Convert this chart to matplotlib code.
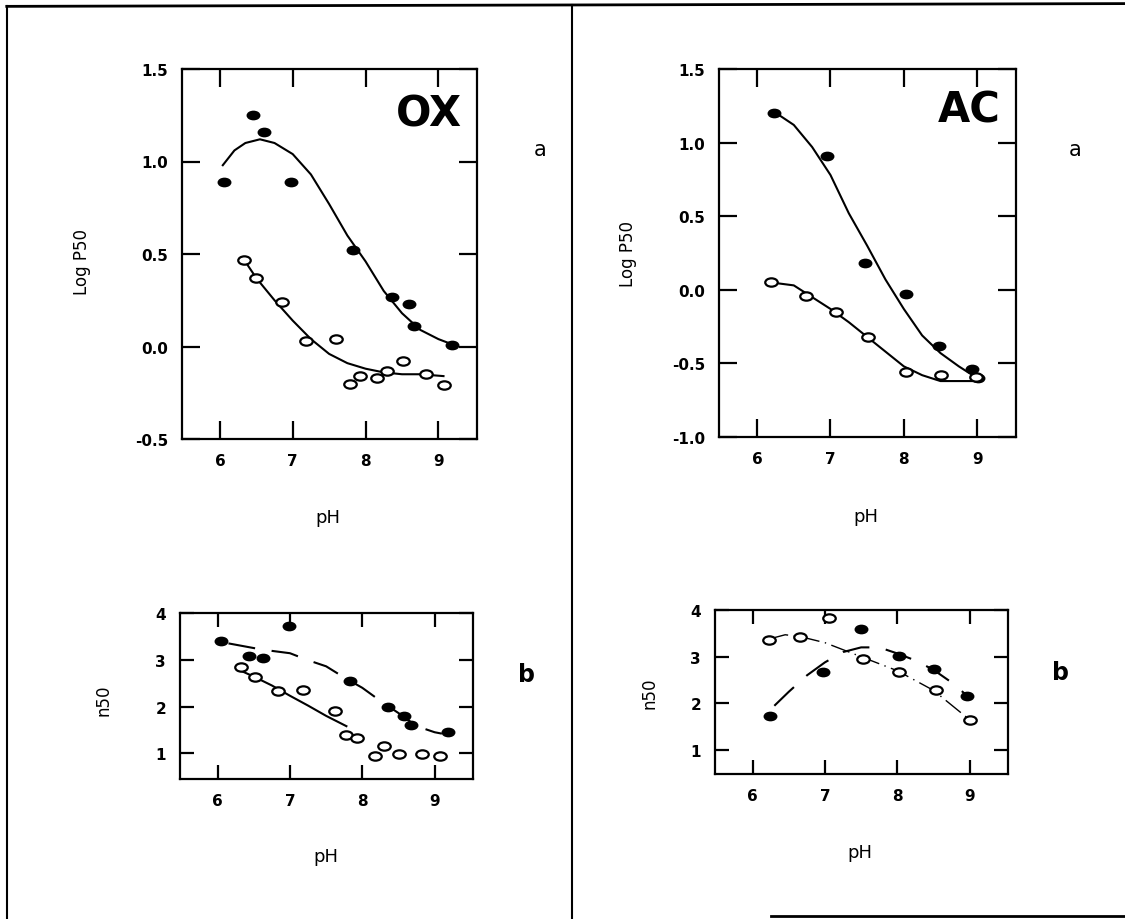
import numpy as np
import matplotlib
matplotlib.use("Agg")
import matplotlib.pyplot as plt
from matplotlib.path import Path
from matplotlib.lines import Line2D

# ---- data ----
# OX, panel a (Log P50)
ph_oxa_fill = [6.05, 6.45, 6.60, 6.98, 7.83, 8.36, 8.59, 8.67, 9.19]
lp_oxa_fill = [0.89, 1.25, 1.16, 0.89, 0.52, 0.27, 0.23, 0.11, 0.01]
ph_oxa_open = [6.33, 6.50, 6.85, 7.18, 7.60, 7.79, 7.92, 8.16, 8.30, 8.52, 8.83, 9.08]
lp_oxa_open = [0.47, 0.37, 0.24, 0.03, 0.04, -0.20, -0.16, -0.17, -0.13, -0.08, -0.15, -0.21]
fit_ph_oxa_fill = [6.04, 6.2, 6.35, 6.55, 6.75, 7.0, 7.25, 7.5, 7.75, 8.0, 8.25, 8.5, 8.75, 9.0, 9.2]
fit_lp_oxa_fill = [0.98, 1.06, 1.10, 1.12, 1.10, 1.04, 0.93, 0.77, 0.60, 0.46, 0.30, 0.18, 0.09, 0.04, 0.01]
fit_ph_oxa_open = [6.33, 6.5, 6.75, 7.0, 7.25, 7.5, 7.75, 8.0, 8.25, 8.5, 8.75, 9.07]
fit_lp_oxa_open = [0.47, 0.37, 0.25, 0.14, 0.04, -0.04, -0.09, -0.12, -0.14, -0.15, -0.15, -0.16]

# AC, panel a (Log P50)
ph_aca_fill = [6.23, 6.95, 7.47, 8.03, 8.48, 8.93, 9.01]
lp_aca_fill = [1.20, 0.91, 0.18, -0.03, -0.38, -0.54, -0.60]
ph_aca_open = [6.19, 6.66, 7.07, 7.51, 8.03, 8.51, 8.99]
lp_aca_open = [0.05, -0.04, -0.15, -0.32, -0.56, -0.58, -0.59]
fit_ph_aca_fill = [6.23, 6.5, 6.75, 7.0, 7.25, 7.5, 7.75, 8.0, 8.25, 8.5, 8.75, 9.0]
fit_lp_aca_fill = [1.21, 1.12, 0.97, 0.78, 0.52, 0.30, 0.07, -0.13, -0.31, -0.43, -0.52, -0.60]
fit_ph_aca_open = [6.19, 6.5, 6.75, 7.0, 7.25, 7.5, 7.75, 8.0, 8.25, 8.5, 8.75, 9.0]
fit_lp_aca_open = [0.05, 0.03, -0.05, -0.13, -0.22, -0.32, -0.42, -0.52, -0.58, -0.62, -0.62, -0.62]

# OX, panel b (n50)
ph_oxb_fill = [6.04, 6.44, 6.63, 6.99, 7.83, 8.35, 8.57, 8.67, 9.19]
n_oxb_fill = [3.40, 3.08, 3.03, 3.72, 2.54, 2.00, 1.79, 1.60, 1.45]
ph_oxb_open = [6.32, 6.52, 6.84, 7.18, 7.62, 7.78, 7.92, 8.18, 8.30, 8.51, 8.82, 9.08]
n_oxb_open = [2.84, 2.63, 2.33, 2.35, 1.90, 1.39, 1.32, 0.94, 1.15, 0.98, 0.98, 0.94]
fit_ph_oxb_fill = [6.15, 6.5, 6.75, 7.0, 7.25, 7.5, 7.75, 8.0, 8.25, 8.5, 8.75, 9.0, 9.1]
fit_n_oxb_fill = [3.35, 3.25, 3.19, 3.14, 2.99, 2.86, 2.62, 2.40, 2.12, 1.86, 1.58, 1.45, 1.42]
fit_ph_oxb_open = [6.3, 6.5, 6.75, 7.0, 7.25, 7.5, 7.78]
fit_n_oxb_open = [2.78, 2.64, 2.45, 2.23, 2.02, 1.80, 1.58]

# AC, panel b (n50)
ph_acb_fill = [6.24, 6.97, 7.50, 8.03, 8.51, 8.96]
n_acb_fill = [1.74, 2.68, 3.60, 3.02, 2.74, 2.15]
ph_acb_open = [6.23, 6.66, 7.05, 7.52, 8.03, 8.53, 9.00]
n_acb_open = [3.36, 3.43, 3.83, 2.95, 2.68, 2.28, 1.64]
fit_ph_acb_fill = [6.3, 6.5, 6.75, 7.0, 7.25, 7.5, 7.75, 8.0, 8.25, 8.5, 8.75, 9.0]
fit_n_acb_fill = [1.95, 2.25, 2.60, 2.88, 3.10, 3.20, 3.20, 3.07, 2.92, 2.72, 2.45, 2.12]
fit_ph_acb_open = [6.23, 6.45, 6.66, 7.0, 7.5, 8.0, 8.5, 9.0]
fit_n_acb_open = [3.38, 3.47, 3.43, 3.30, 3.00, 2.70, 2.28, 1.65]

ph_ticks = [6, 7, 8, 9]

W, H = 1125, 920

# flattened ellipse marker like the plotter symbols
circ = Path.unit_circle()
ell = Path(circ.vertices * np.array([1.35, 0.9]), circ.codes)

fig = plt.figure(figsize=(W / 100, H / 100), dpi=100)


def box(left, top, right, bottom):
    # pixel box -> figure fraction rect
    return [left / W, 1 - bottom / H, (right - left) / W, (bottom - top) / H]


def ftext(x, y, s, **kw):
    fig.text(x / W, 1 - y / H, s, ha='center', va='center', **kw)


def style_axes(ax, ylim, yticks, ylabels, tlen):
    ax.set_xlim(5.48, 9.53)
    ax.set_ylim(*ylim)
    ax.set_xticks(ph_ticks)
    ax.set_xticklabels([str(t) for t in ph_ticks])
    ax.set_yticks(yticks)
    ax.set_yticklabels(ylabels)
    ax.tick_params(direction='in', top=True, right=True, length=tlen, width=1.6,
                   labelsize=11, pad=10)
    for lab in ax.get_xticklabels() + ax.get_yticklabels():
        lab.set_fontweight('bold')
    for sp in ax.spines.values():
        sp.set_linewidth(1.6)


def draw(ax, pf, vf, po, vo, fpf, fvf, fpo, fvo, ls_fill, ls_open, lw_open=1.5):
    ax.plot(fpf, fvf, color='black', lw=1.5, linestyle=ls_fill, zorder=2)
    ax.plot(fpo, fvo, color='black', lw=lw_open, linestyle=ls_open, zorder=2)
    ax.plot(pf, vf, linestyle='none', marker=ell, ms=9, mfc='black', mec='black', zorder=3)
    ax.plot(po, vo, linestyle='none', marker=ell, ms=9, mfc='white', mec='black',
            mew=1.6, zorder=3)


# --- OX a ---
ax1 = fig.add_axes(box(182, 70, 477, 440))
draw(ax1, ph_oxa_fill, lp_oxa_fill, ph_oxa_open, lp_oxa_open,
     fit_ph_oxa_fill, fit_lp_oxa_fill, fit_ph_oxa_open, fit_lp_oxa_open, '-', '-')
style_axes(ax1, (-0.5, 1.5), [-0.5, 0.0, 0.5, 1.0, 1.5],
           ['-0.5', '0.0', '0.5', '1.0', '1.5'], 13)
ax1.text(0.95, 0.88, 'OX', transform=ax1.transAxes, ha='right', va='center',
         fontsize=30, fontweight='bold')

# --- AC a ---
ax2 = fig.add_axes(box(719, 70, 1016, 438))
draw(ax2, ph_aca_fill, lp_aca_fill, ph_aca_open, lp_aca_open,
     fit_ph_aca_fill, fit_lp_aca_fill, fit_ph_aca_open, fit_lp_aca_open, '-', '-')
style_axes(ax2, (-1.0, 1.5), [-1.0, -0.5, 0.0, 0.5, 1.0, 1.5],
           ['-1.0', '-0.5', '0.0', '0.5', '1.0', '1.5'], 13)
ax2.text(0.95, 0.89, 'AC', transform=ax2.transAxes, ha='right', va='center',
         fontsize=30, fontweight='bold')

# --- OX b ---
ax3 = fig.add_axes(box(180, 614, 473, 780))
draw(ax3, ph_oxb_fill, n_oxb_fill, ph_oxb_open, n_oxb_open,
     fit_ph_oxb_fill, fit_n_oxb_fill, fit_ph_oxb_open, fit_n_oxb_open,
     (0, (13, 8)), '-')
style_axes(ax3, (0.45, 4.0), [1, 2, 3, 4], ['1', '2', '3', '4'], 10)

# --- AC b ---
ax4 = fig.add_axes(box(715, 611, 1008, 775))
draw(ax4, ph_acb_fill, n_acb_fill, ph_acb_open, n_acb_open,
     fit_ph_acb_fill, fit_n_acb_fill, fit_ph_acb_open, fit_n_acb_open,
     (0, (13, 8)), (0, (14, 4, 1, 4)), lw_open=1.0)
style_axes(ax4, (0.49, 4.0), [1, 2, 3, 4], ['1', '2', '3', '4'], 10)

# axis titles
ftext(82, 262, 'Log P50', fontsize=12, rotation=90)
ftext(628, 254, 'Log P50', fontsize=12, rotation=90)
ftext(103, 700, 'n50', fontsize=12, rotation=90)
ftext(650, 693, 'n50', fontsize=12, rotation=90)
ftext(328, 518, 'pH', fontsize=13)
ftext(866, 517, 'pH', fontsize=13)
ftext(326, 857, 'pH', fontsize=13)
ftext(860, 853, 'pH', fontsize=13)

# panel letters
ftext(540, 150, 'a', fontsize=15)
ftext(1075, 150, 'a', fontsize=15)
ftext(526, 675, 'b', fontsize=17, fontweight='bold')
ftext(1060, 673, 'b', fontsize=17, fontweight='bold')

# frame of the scanned page
fig.add_artist(Line2D([0.006, 1.0], [0.992, 0.995], color='black', lw=2))
fig.add_artist(Line2D([0.006, 0.006], [0.0, 0.992], color='black', lw=1.5))
fig.add_artist(Line2D([0.508, 0.508], [0.0, 0.994], color='black', lw=1.5))
fig.add_artist(Line2D([0.685, 1.0], [0.003, 0.003], color='black', lw=2))

fig.savefig('out.png', dpi=100)
